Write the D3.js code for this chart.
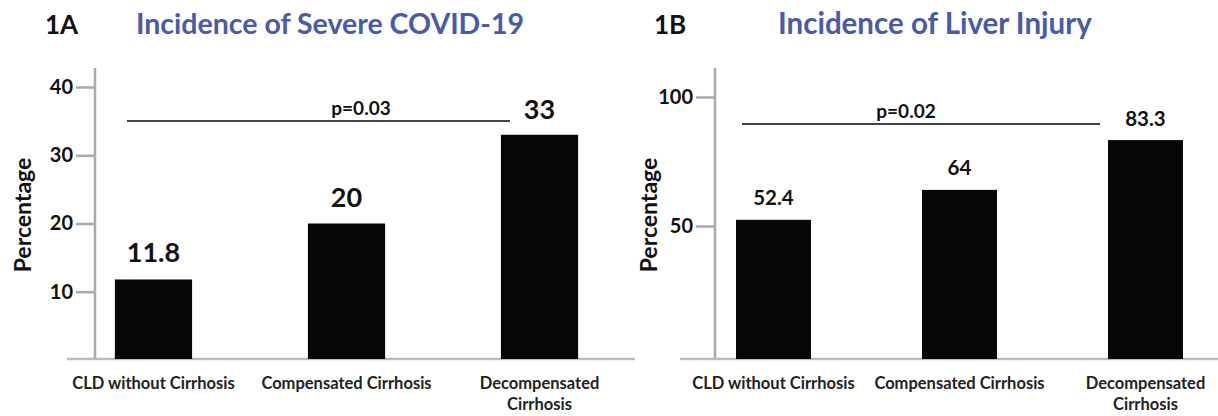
<!DOCTYPE html>
<html><head><meta charset="utf-8">
<script src="https://cdn.jsdelivr.net/npm/d3@7"></script>
<style>body{margin:0;background:#fff;} svg{display:block;font-family:Lato,"Open Sans",sans-serif;}</style>
</head><body>
<svg id="c" width="1218" height="416"></svg>
<script>
const categories = ["CLD without Cirrhosis", "Compensated Cirrhosis", "Decompensated Cirrhosis"];
const severeCovid = [11.8, 20, 33];
const liverInjury = [52.4, 64, 83.3];
const ticksA = [10, 20, 30, 40];
const ticksB = [50, 100];
const panelIds = ["1A", "1B"];
const titles = ["Incidence of Severe COVID-19", "Incidence of Liver Injury"];
const pValues = ["p=0.03", "p=0.02"];

const svg = d3.select("#c");

const panels = [
  {id: panelIds[0], title: titles[0], vals: severeCovid, ticks: ticksA, p: pValues[0],
   domain: [0, 40], yr: [360, 87], axisX: 95, axisTop: 68, baseL: 67, baseR: 635,
   xr: [95, 598], pad: 0.6, outer: 0.103, idX: 45, titleX: 136, titleSize: 28.5,
   labSize: 27, pSize: 19, pLineY: 121, pLineX: [127, 510], pCx: 361, ylabX: 24, tickSize: 20,
   topLabY: 119, labGap: 17},
  {id: panelIds[1], title: titles[1], vals: liverInjury, ticks: ticksB, p: pValues[1],
   domain: [0, 100], yr: [355, 97], axisX: 715, axisTop: 68, baseL: 680, baseR: 1218,
   xr: [715, 1204], pad: 0.597, outer: 0.113, idX: 654, titleX: 778, titleSize: 29.5,
   labSize: 20.5, pSize: 19, pLineY: 124, pLineX: [742, 1100], pCx: 906, ylabX: 650, tickSize: 20,
   topLabY: 126, labGap: 15}
];

panels.forEach((P, k) => {
  const g = svg.append("g");
  const x = d3.scaleBand().domain(categories).range(P.xr).paddingInner(P.pad).paddingOuter(P.outer);
  const y = d3.scaleLinear().domain(P.domain).range(P.yr);
  const baseY = 359;

  // header
  g.append("text").attr("x", P.idX).attr("y", 34).attr("font-size", 26).attr("font-weight", 700)
    .attr("fill", "#111").text(P.id);
  g.append("text").attr("x", P.titleX).attr("y", 34).attr("font-size", P.titleSize).attr("font-weight", 700)
    .attr("fill", "#4a5aab").text(P.title);

  // y axis
  const yAxis = d3.axisLeft(y).tickValues(P.ticks).tickSize(19).tickPadding(3).tickFormat(d3.format("d"));
  const ag = g.append("g").attr("transform", `translate(${P.axisX},0)`).call(yAxis);
  ag.select(".domain").remove();
  ag.selectAll(".tick line").attr("stroke", "#aaa").attr("stroke-width", 2.5);
  ag.selectAll(".tick text").attr("font-size", P.tickSize).attr("font-weight", 700)
    .attr("fill", "#111").attr("font-family", "Lato, sans-serif");
  g.append("line").attr("x1", P.axisX).attr("x2", P.axisX).attr("y1", P.axisTop).attr("y2", baseY)
    .attr("stroke", "#aaa").attr("stroke-width", 2.5);
  // baseline
  g.append("line").attr("x1", P.baseL).attr("x2", P.baseR).attr("y1", baseY).attr("y2", baseY)
    .attr("stroke", "#bbb").attr("stroke-width", 2.5);

  // bars
  g.selectAll("rect.bar").data(P.vals).join("rect").attr("class", "bar")
    .attr("x", (d, i) => x(categories[i])).attr("width", x.bandwidth())
    .attr("y", d => y(d)).attr("height", d => baseY - y(d)).attr("fill", "#060606");

  // value labels
  g.selectAll("text.val").data(P.vals).join("text").attr("class", "val")
    .attr("x", (d, i) => x(categories[i]) + x.bandwidth() / 2)
    .attr("y", (d, i) => i === 2 ? P.topLabY : y(d) - P.labGap)
    .attr("text-anchor", "middle").attr("font-size", P.labSize).attr("font-weight", 700)
    .attr("fill", "#111").text(d => d);

  // p line
  g.append("line").attr("x1", P.pLineX[0]).attr("x2", P.pLineX[1]).attr("y1", P.pLineY).attr("y2", P.pLineY)
    .attr("stroke", "#444").attr("stroke-width", 2);
  g.append("text").attr("x", P.pCx).attr("y", P.pLineY - 6)
    .attr("text-anchor", "middle").attr("font-size", P.pSize).attr("font-weight", 700).attr("fill", "#111").text(P.p);

  // y label
  g.append("text").attr("transform", `translate(${P.ylabX + 7},215) rotate(-90)`)
    .attr("text-anchor", "middle").attr("font-size", 23).attr("font-weight", 700).attr("fill", "#111").text("Percentage");

  // x labels
  const xl = g.selectAll("text.xl").data(categories).join("text").attr("class", "xl")
    .attr("x", d => x(d) + x.bandwidth() / 2).attr("y", 389)
    .attr("text-anchor", "middle").attr("font-size", 16.5).attr("font-weight", 700).attr("fill", "#222");
  xl.each(function(d, i) {
    const t = d3.select(this);
    if (i === 2) {
      const parts = d.split(" ");
      t.append("tspan").attr("x", x(d) + x.bandwidth() / 2).text(parts[0]);
      t.append("tspan").attr("x", x(d) + x.bandwidth() / 2).attr("dy", 21).text(parts[1]);
    } else t.text(d);
  });
});
</script>
</body></html>
